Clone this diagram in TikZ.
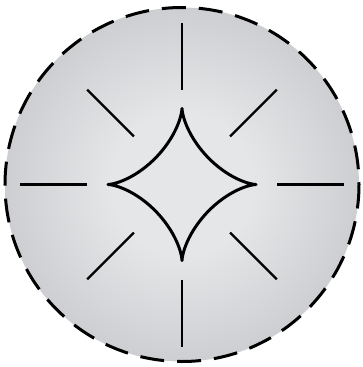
\documentclass[tikz,border=0pt]{standalone}
\usetikzlibrary{calc}
\definecolor{DiscLight}{HTML}{E5E6E8}
\definecolor{DiscDark}{HTML}{A6A7AB}
\pgfdeclareradialshading{discglow}{\pgfpoint{0bp}{0bp}}{%
  color(0bp)=(DiscLight); color(10bp)=(DiscLight); color(50bp)=(DiscDark)}
\tikzset{
  rim/.style={line width=3pt, dash pattern=on 24pt off 13pt},
  ray/.style={line width=2.2pt},
  cusp/.style={line width=3pt, line join=round}
}

\begin{document}
\begin{tikzpicture}[x=1pt,y=-1pt]
  \useasboundingbox (0,0) rectangle (363,367);
  \coordinate (ctr) at (182,184.5);

  % Shaded disc and dashed rim
  \shade[shading=discglow] (ctr) circle[radius=177];
  \draw[rim] (ctr) circle[radius=177];

  % Rays (long ones on the axes, short ones on the diagonals)
  \foreach \a in {0,90,180,270} {
    \draw[ray] ($(ctr)+(\a:95)$) -- ($(ctr)+(\a:162)$);
  }
  \foreach \a in {45,135,225,315} {
    \draw[ray] ($(ctr)+(\a:68)$) -- ($(ctr)+(\a:134)$);
  }

  % Four-cusped star (astroid)
  \draw[cusp, shift={(ctr)}] plot[domain=0:360, samples=241]
    ({74*cos(\x)*cos(\x)*cos(\x)},{76*sin(\x)*sin(\x)*sin(\x)}) -- cycle;
\end{tikzpicture}
\end{document}
